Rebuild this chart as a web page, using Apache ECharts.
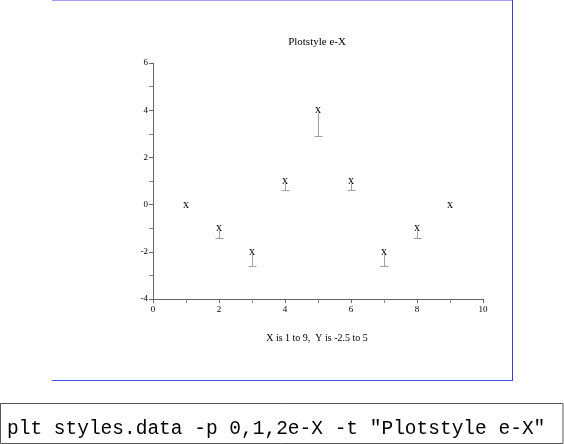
<!DOCTYPE html>
<html>
<head>
<meta charset="utf-8">
<script src="https://cdn.jsdelivr.net/npm/echarts@6/dist/echarts.min.js"></script>
<style>
html, body { margin: 0; padding: 0; background: #fff; }
#chart { width: 564px; height: 444px; }
</style>
</head>
<body>
<div id="chart"></div>
<script>
// data: x, y and the downward error
var xs = [1, 2, 3, 4, 5, 6, 7, 8, 9];
var ys = [0, -1, -2, 1, 4, 1, -2, -1, 0];
var errs = [0, 0.4, 0.6, 0.4, 1.1, 0.4, 0.6, 0.4, 0];

var titleText = 'Plotstyle e-X';
var xNameText = 'X is 1 to 9,  Y is -2.5 to 5';
var cmdText = 'plt styles.data -p 0,1,2e-X -t "Plotstyle e-X"';

var serif = '"Liberation Serif", "DejaVu Serif", serif';

var pts = [];
for (var i = 0; i < xs.length; i++) {
    pts.push([xs[i], ys[i], ys[i] - errs[i]]);
}

var chart = echarts.init(document.getElementById('chart'));

function drawPoint(params, api) {
    var top = api.coord([api.value(0), api.value(1)]);
    var low = api.coord([api.value(0), api.value(2)]);
    var cx = Math.round(top[0]) + 0.5;
    var ly = Math.round(low[1]) + 0.5;
    var kids = [];
    if (low[1] - top[1] > 1) {
        kids.push({
            type: 'line',
            shape: { x1: cx, y1: top[1] + 3, x2: cx, y2: ly },
            style: { stroke: '#a0a0a0', lineWidth: 1 }
        });
        kids.push({
            type: 'line',
            shape: { x1: cx - 4, y1: ly, x2: cx + 4, y2: ly },
            style: { stroke: '#a0a0a0', lineWidth: 1 }
        });
    }
    kids.push({
        type: 'text',
        style: {
            x: top[0], y: top[1], text: 'x',
            align: 'center', verticalAlign: 'middle',
            font: '12px ' + serif, fill: '#000'
        }
    });
    return { type: 'group', children: kids };
}

var option = {
    animation: false,
    backgroundColor: '#fff',
    grid: { left: 153, top: 63, width: 330, height: 236 },
    xAxis: {
        type: 'value', min: 0, max: 10, interval: 2,
        axisLine: { onZero: false, lineStyle: { color: '#666' } },
        axisTick: { length: 4, lineStyle: { color: '#666' } },
        minorTick: { show: true, splitNumber: 2, length: 4, lineStyle: { color: '#888' } },
        splitLine: { show: false },
        axisLabel: { color: '#000', fontFamily: serif, fontSize: 9, margin: 6 }
    },
    yAxis: {
        type: 'value', min: -4, max: 6, interval: 2,
        axisLine: { show: true, lineStyle: { color: '#666' } },
        axisTick: { show: true, length: 4, lineStyle: { color: '#666' } },
        minorTick: { show: true, splitNumber: 2, length: 4, lineStyle: { color: '#888' } },
        splitLine: { show: false },
        axisLabel: { color: '#000', fontFamily: serif, fontSize: 9, margin: 5 }
    },
    series: [{
        type: 'custom',
        renderItem: drawPoint,
        data: pts
    }],
    graphic: [
        { type: 'line', shape: { x1: 52, y1: 0.5, x2: 512, y2: 0.5 }, style: { stroke: '#9f9fff', lineWidth: 1 } },
        { type: 'line', shape: { x1: 512.5, y1: 0, x2: 512.5, y2: 381 }, style: { stroke: '#3c3ce6', lineWidth: 1 } },
        { type: 'line', shape: { x1: 52, y1: 380.5, x2: 513, y2: 380.5 }, style: { stroke: '#4848e8', lineWidth: 1 } },
        { type: 'text', style: { x: 317, y: 42, text: titleText, align: 'center', verticalAlign: 'middle', font: '11px ' + serif, fill: '#000' } },
        { type: 'text', style: { x: 317, y: 338, text: xNameText, align: 'center', verticalAlign: 'middle', font: '10px ' + serif, fill: '#000' } },
        { type: 'rect', shape: { x: 0.5, y: 403.5, width: 562.5, height: 40 }, style: { fill: '#fff', stroke: '#555', lineWidth: 1 } },
        { type: 'text', style: { x: 7, y: 429, text: cmdText, align: 'left', verticalAlign: 'middle', font: '19.5px "Liberation Mono", "DejaVu Sans Mono", monospace', fill: '#000' } }
    ]
};

chart.setOption(option);
</script>
</body>
</html>
